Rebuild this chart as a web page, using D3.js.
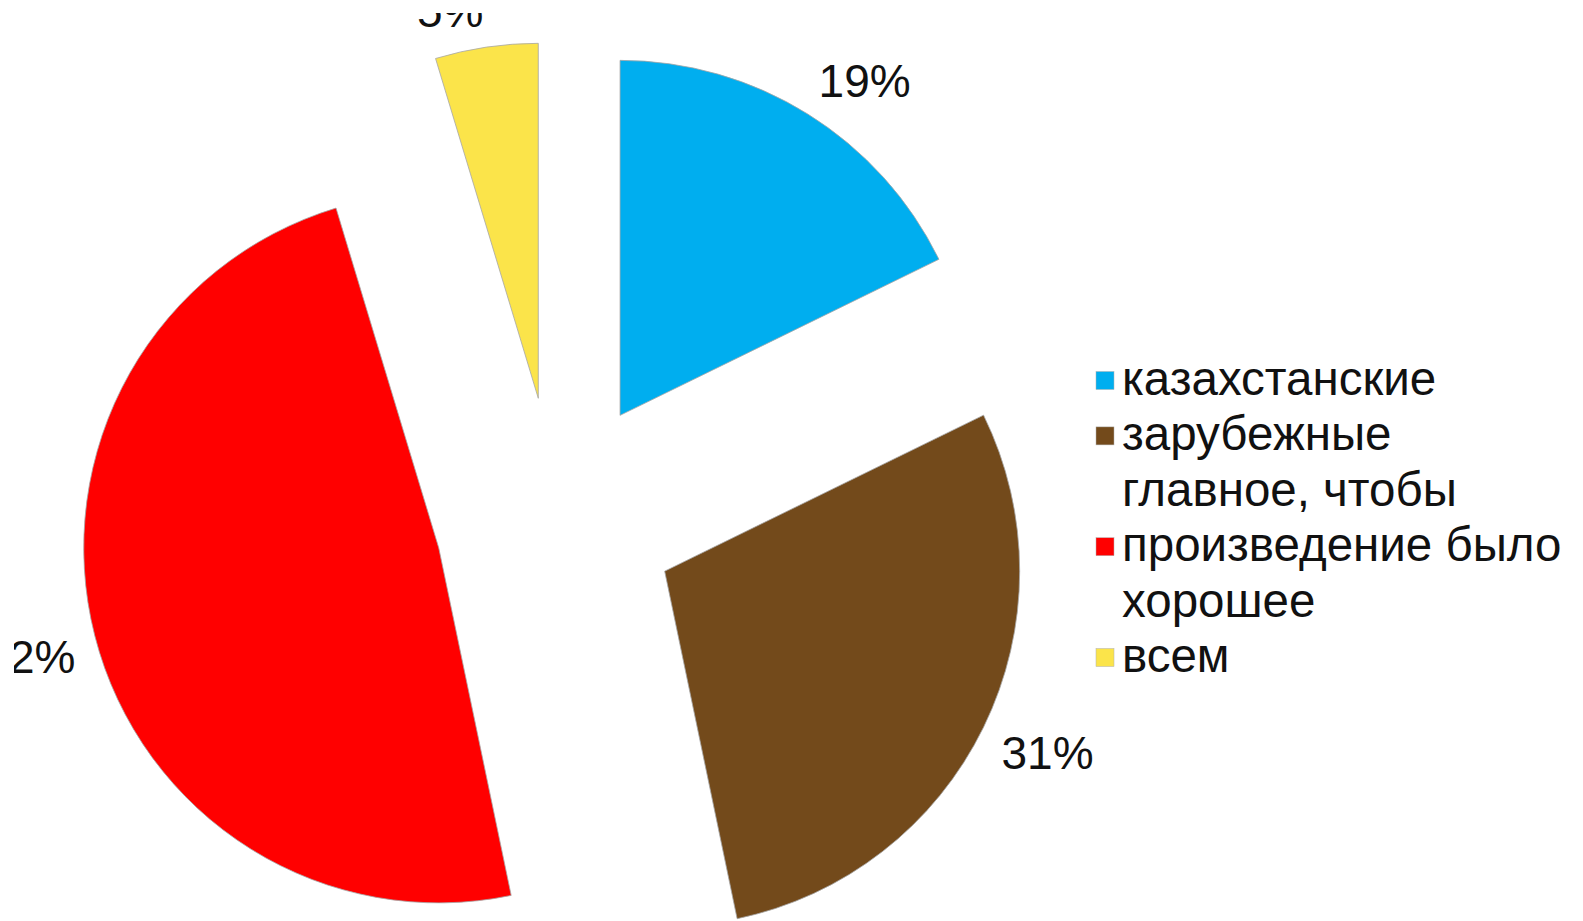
<!DOCTYPE html>
<html>
<head>
<meta charset="utf-8">
<script src="https://cdn.jsdelivr.net/npm/d3@7"></script>
<style>
  html, body { margin: 0; padding: 0; background: #fff; }
  svg { display: block; }
  text { font-family: "Liberation Sans", Arial, sans-serif; fill: #111; }
</style>
</head>
<body>
<svg id="chart"></svg>
<script>
// chart data
const categories = [
  "казахстанские",
  "зарубежные",
  "главное, чтобы произведение было хорошее",
  "всем"
];
const values = [19, 31, 52, 5];
const valueLabels = ["19%", "31%", "52%", "5%"];
const colors = ["#00aeef", "#734a1b", "#ff0000", "#fbe44a"];

const WIDTH = 1583;
const HEIGHT = 921;
const CX = 556; // pie centre
const CY = 518;
const RADIUS = 355;
const EXPLODE = 121; // distance each slice is pulled out
const LABEL_GAP = 20; // gap between the arc and the label box
const FONT_SIZE = 46;
const CAP = FONT_SIZE * 0.716; // cap height of the digits

const svg = d3.select("#chart").attr("width", WIDTH).attr("height", HEIGHT);

// the picture is cropped a little on top and left
svg.append("clipPath").attr("id", "crop")
  .append("rect").attr("x", 14).attr("y", 13).attr("width", WIDTH).attr("height", HEIGHT);

const root = svg.append("g").attr("clip-path", "url(#crop)");

const pie = d3.pie().sort(null).value((d) => d);
const arcs = pie(values);
const arc = d3.arc().innerRadius(0).outerRadius(RADIUS);

// unit vector for an angle measured clockwise from 12 o'clock
const dir = (a) => [Math.sin(a), -Math.cos(a)];

const slices = root.append("g")
  .attr("transform", `translate(${CX},${CY})`)
  .selectAll("g")
  .data(arcs)
  .enter()
  .append("g")
  .attr("transform", (d) => {
    const [ux, uy] = dir((d.startAngle + d.endAngle) / 2);
    return `translate(${ux * EXPLODE},${uy * EXPLODE})`;
  });

slices.append("path")
  .attr("d", arc)
  .attr("fill", (d, i) => colors[i])
  .attr("stroke", "#a6a6a6")
  .attr("stroke-width", 0.8);

// value labels: the label box corner nearest the slice sits just past the arc
slices.append("text")
  .text((d, i) => valueLabels[i])
  .style("font-size", FONT_SIZE + "px")
  .attr("text-anchor", (d) => (Math.sin((d.startAngle + d.endAngle) / 2) >= 0 ? "start" : "end"))
  .attr("x", (d) => dir((d.startAngle + d.endAngle) / 2)[0] * (RADIUS + LABEL_GAP))
  .attr("y", (d) => {
    const uy = dir((d.startAngle + d.endAngle) / 2)[1];
    const y = uy * (RADIUS + LABEL_GAP);
    return uy < 0 ? y : y + CAP;
  });

// legend
const LEG_X = 1096;
const LEG_TOP = 395; // first baseline
const LINE_H = 55.4;
const MARK = 18;
const LEG_FONT = 47.5;
const MAX_W = 465;

const legend = root.append("g");
let line = 0;
categories.forEach((name, i) => {
  // wrap the entry into lines that fit
  const words = name.split(" ");
  const probe = legend.append("text").style("font-size", LEG_FONT + "px");
  const lines = [];
  let cur = "";
  words.forEach((w) => {
    const test = cur ? cur + " " + w : w;
    probe.text(test);
    if (cur && probe.node().getComputedTextLength() > MAX_W) {
      lines.push(cur);
      cur = w;
    } else {
      cur = test;
    }
  });
  lines.push(cur);
  probe.remove();

  const first = line;
  lines.forEach((t) => {
    legend.append("text")
      .attr("x", LEG_X + MARK + 8)
      .attr("y", LEG_TOP + line * LINE_H)
      .style("font-size", LEG_FONT + "px")
      .text(t);
    line += 1;
  });
  const midBase = LEG_TOP + ((first + line - 1) / 2) * LINE_H;
  legend.append("rect")
    .attr("x", LEG_X)
    .attr("y", midBase - 14.5 - MARK / 2)
    .attr("width", MARK)
    .attr("height", MARK)
    .attr("fill", colors[i])
    .attr("stroke", "#b0b0b0")
    .attr("stroke-width", 0.5);
});
</script>
</body>
</html>
